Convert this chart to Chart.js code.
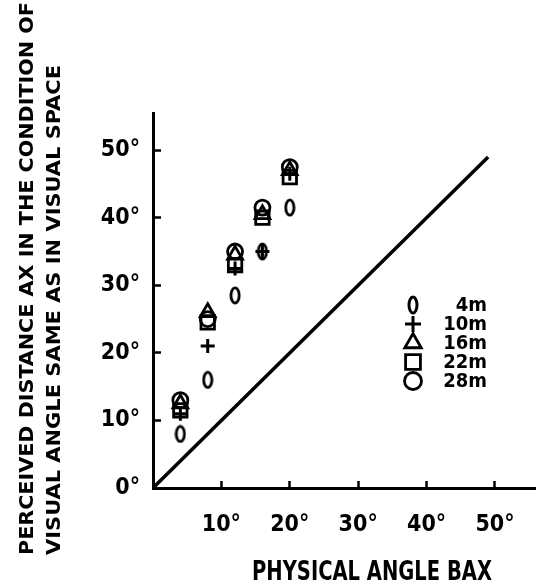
<!DOCTYPE html>
<html>
<head>
<meta charset="utf-8">
<script src="https://cdn.jsdelivr.net/npm/chart.js@4/dist/chart.umd.min.js"></script>
<style>
  body { margin: 0; background: #fff; }
  canvas { display: block; }
</style>
</head>
<body>
<canvas id="myChart" width="536" height="588"></canvas>
<script>
// DATA

const angles = [4, 8, 12, 16, 20];
const dist4m = [8, 16, 28.5, 35, 41.5];
const dist10m = [11, 21, 32.5, 35, 46.5];
const dist16m = [12.5, 26, 34.5, 40.5, 47];
const dist22m = [11.5, 24.5, 33, 40, 46];
const dist28m = [13, 25, 35, 41.5, 47.5];
const distanceLabels = ["4m", "10m", "16m", "22m", "28m"];
const equalLineX = [0, 49];
const equalLineY = [0, 49];

const yTitle = ["PERCEIVED DISTANCE AX IN THE CONDITION OF", "VISUAL ANGLE SAME AS IN VISUAL SPACE"];
const xTitle = "PHYSICAL ANGLE BAX";

const fontFamily = '"DejaVu Sans Condensed", "Liberation Sans Narrow", "DejaVu Sans", sans-serif';

// "0" glyph marker for 4m
function zeroMarker(w, h, lw) {
  const c = document.createElement("canvas");
  c.width = w;
  c.height = h;
  const g = c.getContext("2d");
  g.strokeStyle = "#000";
  g.lineWidth = lw;
  g.beginPath();
  g.ellipse(w / 2, h / 2, w / 2 - lw / 2 - 0.5, h / 2 - lw / 2 - 0.5, 0, 0, Math.PI * 2);
  g.stroke();
  return c;
}

const zeroPoint = zeroMarker(12, 19, 2.8);
const zeroLegend = zeroMarker(12, 20, 3);

function pts(ys) {
  return angles.map((a, i) => ({ x: a, y: ys[i] }));
}

const markerSets = [
  { label: distanceLabels[0], data: pts(dist4m), pointStyle: zeroPoint, pointRadius: 8, pointBorderWidth: 2.8 },
  { label: distanceLabels[1], data: pts(dist10m), pointStyle: "cross", pointRadius: 7, pointBorderWidth: 3 },
  { label: distanceLabels[2], data: pts(dist16m), pointStyle: "triangle", pointRadius: 8.5, pointBorderWidth: 2.8 },
  { label: distanceLabels[3], data: pts(dist22m), pointStyle: "rect", pointRadius: 9.5, pointBorderWidth: 2.8 },
  { label: distanceLabels[4], data: pts(dist28m), pointStyle: "circle", pointRadius: 7.5, pointBorderWidth: 2.8 },
];

const datasets = markerSets.map((s) =>
  Object.assign(s, {
    borderColor: "#000",
    backgroundColor: "rgba(0,0,0,0)",
    pointBorderColor: "#000",
    pointBackgroundColor: "rgba(0,0,0,0)",
  })
);

datasets.push({
  label: "equal",
  data: equalLineX.map((x, i) => ({ x: x, y: equalLineY[i] })),
  showLine: true,
  borderColor: "#000",
  borderWidth: 3.5,
  pointRadius: 0,
});

// TITLES + LEGEND

function stretchedText(ctx, text, x, y, width, rot) {
  ctx.save();
  ctx.translate(x, y);
  ctx.rotate(rot);
  const w = ctx.measureText(text).width;
  ctx.scale(width / w, 1);
  ctx.fillText(text, 0, 0);
  ctx.restore();
}

const extras = {
  id: "extras",
  afterDraw(chart) {
    const ctx = chart.ctx;
    ctx.save();
    ctx.fillStyle = "#000";
    ctx.textBaseline = "middle";

    // y title, two lines, starting at bottom
    ctx.font = "bold 20px " + fontFamily;
    ctx.textAlign = "left";
    stretchedText(ctx, yTitle[0], 28, 555, 553, -Math.PI / 2);
    stretchedText(ctx, yTitle[1], 55, 555, 490, -Math.PI / 2);

    // x title
    ctx.font = "bold 26px " + fontFamily;
    ctx.textAlign = "center";
    stretchedText(ctx, xTitle, 372, 573, 240, 0);

    // legend
    const rows = [305, 324, 343, 362, 381];
    ctx.font = "bold 20px " + fontFamily;
    ctx.textAlign = "right";
    markerSets.forEach((s, i) => {
      const y = rows[i];
      ctx.strokeStyle = "#000";
      ctx.fillStyle = "rgba(0,0,0,0)";
      ctx.lineWidth = s.pointBorderWidth;
      if (i === 0) {
        ctx.drawImage(zeroLegend, 413 - zeroLegend.width / 2, y - zeroLegend.height / 2);
      } else {
        Chart.helpers.drawPoint(ctx, {
          pointStyle: s.pointStyle,
          rotation: 0,
          radius: s.pointRadius + 1,
          borderWidth: s.pointBorderWidth,
        }, 413, y);
      }
      ctx.fillStyle = "#000";
      ctx.fillText(s.label, 487, y + 1);
    });
    ctx.restore();
  },
};

const tickFont = { family: fontFamily, size: 23, weight: "bold" };

new Chart(document.getElementById("myChart"), {
  type: "scatter",
  data: { datasets: datasets },
  options: {
    responsive: false,
    animation: false,
    layout: { autoPadding: false, padding: { top: 113, right: 0, left: 0, bottom: 0 } },
    plugins: {
      legend: { display: false },
      tooltip: { enabled: false },
    },
    scales: {
      x: {
        type: "linear",
        min: 0,
        max: 56,
        border: { color: "#000", width: 3 },
        grid: { drawOnChartArea: false, color: "#000", tickLength: -7, tickWidth: 2.5 },
        ticks: {
          stepSize: 10,
          includeBounds: false,
          padding: 30,
          color: "#000",
          font: tickFont,
          maxRotation: 0,
          callback: (v) => (v === 0 ? "" : v + "°"),
        },
        afterFit: (s) => {
          s.height = 100;
          s.paddingLeft = 0;
          s.paddingRight = 0;
        },
      },
      y: {
        type: "linear",
        min: 0,
        max: 55.5,
        border: { color: "#000", width: 3 },
        grid: { drawOnChartArea: false, color: "#000", tickLength: -8, tickWidth: 2.5 },
        ticks: {
          stepSize: 10,
          includeBounds: false,
          padding: 21,
          color: "#000",
          font: tickFont,
          callback: (v) => v + "°",
        },
        afterFit: (s) => {
          s.width = 153;
          s.paddingTop = 0;
          s.paddingBottom = 0;
        },
      },
    },
  },
  plugins: [extras],
});
</script>
</body>
</html>
